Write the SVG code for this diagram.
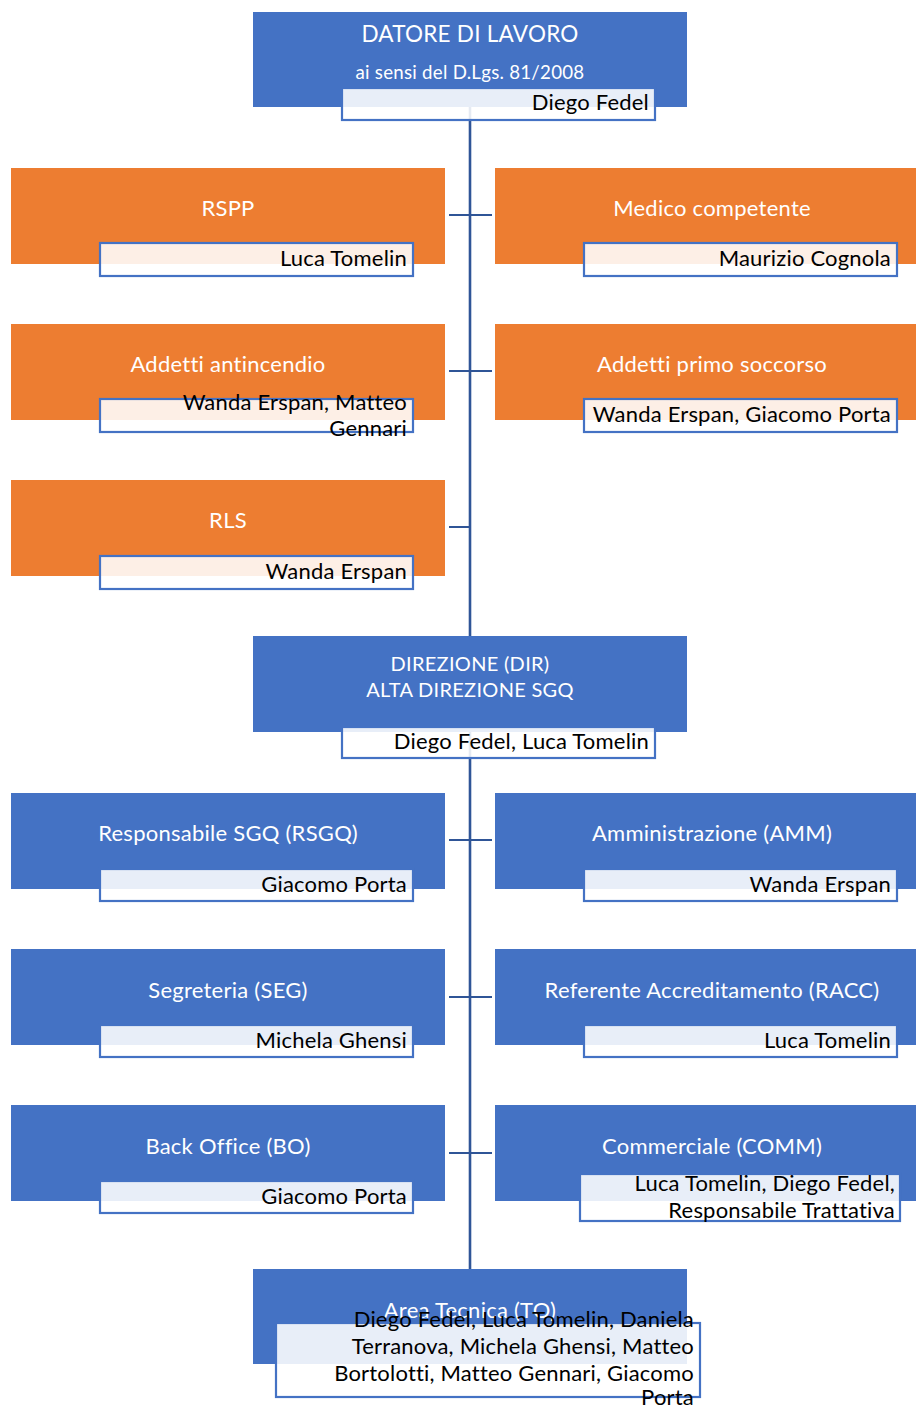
<svg xmlns="http://www.w3.org/2000/svg" width="916" height="1407" viewBox="0 0 916 1407">
<style>
.bg{fill:#ffffff}
.blue{fill:#4472C4}
.orange{fill:#ED7D31}
.lbl{fill:#ffffff;fill-opacity:0.88;stroke:#4472C4;stroke-width:2.2}
.title{font-family:Lato,"Liberation Sans",sans-serif;font-size:22px;letter-spacing:0.25px;fill:#ffffff;text-anchor:middle}
.name{font-family:Lato,"Liberation Sans",sans-serif;font-size:22px;letter-spacing:0.2px;fill:#000000;text-anchor:end}
.conn{stroke:#2F5597;stroke-width:2.6;fill:none}
.tick{stroke:#2F5597;stroke-width:2;fill:none}
</style>
<rect class="bg" x="0" y="0" width="916" height="1407"/>
<g id="connectors">
<line class="conn" x1="470" y1="107" x2="470" y2="1269"/>
<line class="tick" x1="449" y1="215" x2="492" y2="215"/>
<line class="tick" x1="449" y1="371" x2="492" y2="371"/>
<line class="tick" x1="449" y1="527" x2="470" y2="527"/>
<line class="tick" x1="449" y1="840" x2="492" y2="840"/>
<line class="tick" x1="449" y1="997" x2="492" y2="997"/>
<line class="tick" x1="449" y1="1153" x2="492" y2="1153"/>
</g>
<g id="datore">
<rect class="blue" x="253" y="12" width="434" height="95"/>
<text class="title" x="470" y="42" style="font-size:22.5px">DATORE DI LAVORO</text>
<text class="title" x="470" y="79" style="font-size:18.7px">ai sensi del D.Lgs. 81/2008</text>
<rect class="lbl" x="342" y="88" width="313" height="32"/>
<text class="name" x="649" y="110">Diego Fedel</text>
</g>
<g id="rspp">
<rect class="orange" x="11" y="168" width="434" height="96"/>
<text class="title" x="228" y="216">RSPP</text>
<rect class="lbl" x="100" y="243" width="313" height="33"/>
<text class="name" x="407" y="266">Luca Tomelin</text>
</g>
<g id="medico">
<rect class="orange" x="495" y="168" width="421" height="96"/>
<text class="title" x="712" y="216">Medico competente</text>
<rect class="lbl" x="584" y="243" width="313" height="33"/>
<text class="name" x="891" y="266">Maurizio Cognola</text>
</g>
<g id="antincendio">
<rect class="orange" x="11" y="324" width="434" height="96"/>
<text class="title" x="228" y="372">Addetti antincendio</text>
<rect class="lbl" x="100" y="399" width="313" height="33"/>
<text class="name" x="407" y="410">Wanda Erspan, Matteo</text>
<text class="name" x="407" y="436">Gennari</text>
</g>
<g id="primosoccorso">
<rect class="orange" x="495" y="324" width="421" height="96"/>
<text class="title" x="712" y="372">Addetti primo soccorso</text>
<rect class="lbl" x="584" y="399" width="313" height="33"/>
<text class="name" x="891" y="422">Wanda Erspan, Giacomo Porta</text>
</g>
<g id="rls">
<rect class="orange" x="11" y="480" width="434" height="96"/>
<text class="title" x="228" y="528">RLS</text>
<rect class="lbl" x="100" y="556" width="313" height="33"/>
<text class="name" x="407" y="579">Wanda Erspan</text>
</g>
<g id="direzione">
<rect class="blue" x="253" y="636" width="434" height="96"/>
<text class="title" x="470" y="671" style="font-size:20px;letter-spacing:0.3px">DIREZIONE (DIR)</text>
<text class="title" x="470" y="697" style="font-size:20px;letter-spacing:0.3px">ALTA DIREZIONE SGQ</text>
<rect class="lbl" x="342" y="727" width="313" height="31"/>
<text class="name" x="649" y="749">Diego Fedel, Luca Tomelin</text>
</g>
<g id="rsgq">
<rect class="blue" x="11" y="793" width="434" height="96"/>
<text class="title" x="228" y="841">Responsabile SGQ (RSGQ)</text>
<rect class="lbl" x="100" y="869" width="313" height="32"/>
<text class="name" x="407" y="892">Giacomo Porta</text>
</g>
<g id="amm">
<rect class="blue" x="495" y="793" width="421" height="96"/>
<text class="title" x="712" y="841">Amministrazione (AMM)</text>
<rect class="lbl" x="584" y="869" width="313" height="32"/>
<text class="name" x="891" y="892">Wanda Erspan</text>
</g>
<g id="seg">
<rect class="blue" x="11" y="949" width="434" height="96"/>
<text class="title" x="228" y="998">Segreteria (SEG)</text>
<rect class="lbl" x="100" y="1025" width="313" height="32"/>
<text class="name" x="407" y="1048">Michela Ghensi</text>
</g>
<g id="racc">
<rect class="blue" x="495" y="949" width="421" height="96"/>
<text class="title" x="712" y="998">Referente Accreditamento (RACC)</text>
<rect class="lbl" x="584" y="1025" width="313" height="32"/>
<text class="name" x="891" y="1048">Luca Tomelin</text>
</g>
<g id="bo">
<rect class="blue" x="11" y="1105" width="434" height="96"/>
<text class="title" x="228" y="1154">Back Office (BO)</text>
<rect class="lbl" x="100" y="1181" width="313" height="32"/>
<text class="name" x="407" y="1204">Giacomo Porta</text>
</g>
<g id="comm">
<rect class="blue" x="495" y="1105" width="421" height="96"/>
<text class="title" x="712" y="1154">Commerciale (COMM)</text>
<rect class="lbl" x="580" y="1174" width="320" height="47"/>
<text class="name" x="895" y="1191">Luca Tomelin, Diego Fedel,</text>
<text class="name" x="895" y="1218">Responsabile Trattativa</text>
</g>
<g id="areatecnica">
<rect class="blue" x="253" y="1269" width="434" height="95"/>
<text class="title" x="470" y="1318">Area Tecnica (TO)</text>
<rect class="lbl" x="276" y="1323" width="424" height="74"/>
<text class="name" x="694" y="1327">Diego Fedel, Luca Tomelin, Daniela</text>
<text class="name" x="694" y="1354">Terranova, Michela Ghensi, Matteo</text>
<text class="name" x="694" y="1381">Bortolotti, Matteo Gennari, Giacomo</text>
<text class="name" x="694" y="1405">Porta</text>
</g>
</svg>
